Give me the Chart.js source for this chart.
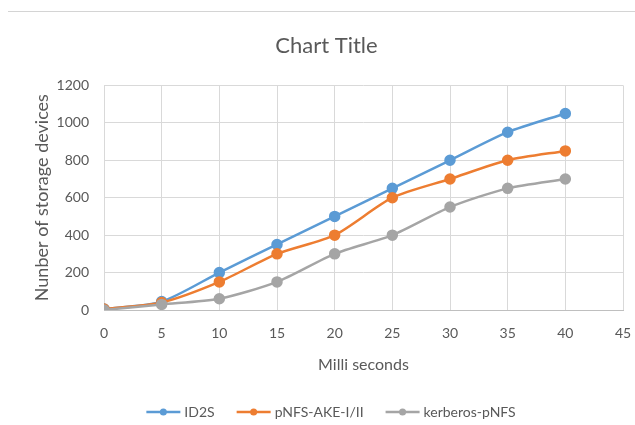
<!DOCTYPE html>
<html>
<head>
<meta charset="utf-8">
<script src="https://cdn.jsdelivr.net/npm/chart.js@4/dist/chart.umd.min.js"></script>
<style>
  html, body { margin: 0; padding: 0; background: #fff; }
  #wrap { position: relative; width: 635px; height: 425px; }
  #topline { position: absolute; left: 8px; right: 0; top: 11px; height: 1px; background: #d4d4d4; }
</style>
</head>
<body>
<div id="wrap">
  <div id="topline"></div>
  <canvas id="lineChart" width="635" height="425"></canvas>
</div>
<script>
const xValues = [0, 5, 10, 15, 20, 25, 30, 35, 40];
const id2s = [5, 45, 200, 350, 500, 650, 800, 950, 1050];
const pnfsAke = [5, 40, 150, 300, 400, 600, 700, 800, 850];
const kerberos = [0, 30, 60, 150, 300, 400, 550, 650, 700];
const seriesNames = ["ID2S", "pNFS-AKE-I/II", "kerberos-pNFS"];
const seriesColors = ["#5b9bd5", "#ed7d31", "#a5a5a5"];

const FONT = "Lato, 'Open Sans', sans-serif";

function toPoints(values) {
  return xValues.map((x, i) => ({ x: x, y: values[i] }));
}

// spreadsheet style legend: line + dot, then the name, centered under the chart
const lineLegend = {
  id: "lineLegend",
  afterDraw(chart) {
    const ctx = chart.ctx;
    const y = 412;
    const markW = 34, textGap = 4, itemGap = 22;
    ctx.save();
    ctx.font = "14px " + FONT;
    ctx.textBaseline = "middle";
    const items = chart.data.datasets.map((ds) => ({
      label: ds.label,
      color: ds.borderColor,
      w: markW + textGap + ctx.measureText(ds.label).width,
    }));
    const total = items.reduce((s, it) => s + it.w, 0) + itemGap * (items.length - 1);
    let x = 331 - total / 2;
    items.forEach((it) => {
      ctx.strokeStyle = it.color;
      ctx.lineWidth = 2.5;
      ctx.beginPath();
      ctx.moveTo(x, y);
      ctx.lineTo(x + markW, y);
      ctx.stroke();
      ctx.fillStyle = it.color;
      ctx.beginPath();
      ctx.arc(x + markW / 2, y, 3.5, 0, Math.PI * 2);
      ctx.fill();
      ctx.fillStyle = "#595959";
      ctx.fillText(it.label, x + markW + textGap, y);
      x += it.w + itemGap;
    });
    ctx.restore();
  },
};

const allSeries = [id2s, pnfsAke, kerberos];

new Chart(document.getElementById("lineChart").getContext("2d"), {
  type: "line",
  data: {
    datasets: allSeries.map((vals, i) => ({
      label: seriesNames[i],
      data: toPoints(vals),
      borderColor: seriesColors[i],
      backgroundColor: seriesColors[i],
      borderWidth: 2.5,
      pointRadius: 4.5,
      pointHoverRadius: 4.5,
      tension: 0.25,
      order: 3 - i,
    })),
  },
  options: {
    responsive: false,
    animation: false,
    layout: { padding: { left: 30, right: 12, top: 0, bottom: 21 } },
    plugins: {
      title: {
        display: true,
        text: "Chart Title",
        color: "#595959",
        font: { family: FONT, size: 22, weight: "normal" },
        padding: { top: 33, bottom: 26 },
      },
      legend: { display: false },
      tooltip: { enabled: false },
    },
    scales: {
      x: {
        type: "linear",
        min: 0,
        max: 45,
        ticks: { stepSize: 5, color: "#595959", font: { family: FONT, size: 14 }, padding: 3 },
        grid: { color: "#d9d9d9", drawTicks: true, tickLength: 12, tickColor: "rgba(0,0,0,0)" },
        border: { color: "#bfbfbf" },
        title: {
          display: true,
          text: "Milli seconds",
          color: "#595959",
          font: { family: FONT, size: 16 },
          padding: { top: 4, bottom: 30 },
        },
        afterFit: (scale) => { scale.height = 94; },
      },
      y: {
        min: 0,
        max: 1200,
        ticks: {
          stepSize: 200,
          color: "#595959",
          font: { family: FONT, size: 14 },
          padding: 15,
          callback: (v) => String(v),
        },
        grid: { color: "#d9d9d9", drawTicks: false },
        border: { display: false },
        title: {
          display: true,
          text: "Nunber of storage devices",
          color: "#595959",
          font: { family: FONT, size: 18 },
          padding: { top: 1, bottom: 0 },
        },
        afterFit: (scale) => { scale.width = 74; },
      },
    },
  },
  plugins: [lineLegend],
});
</script>
</body>
</html>
